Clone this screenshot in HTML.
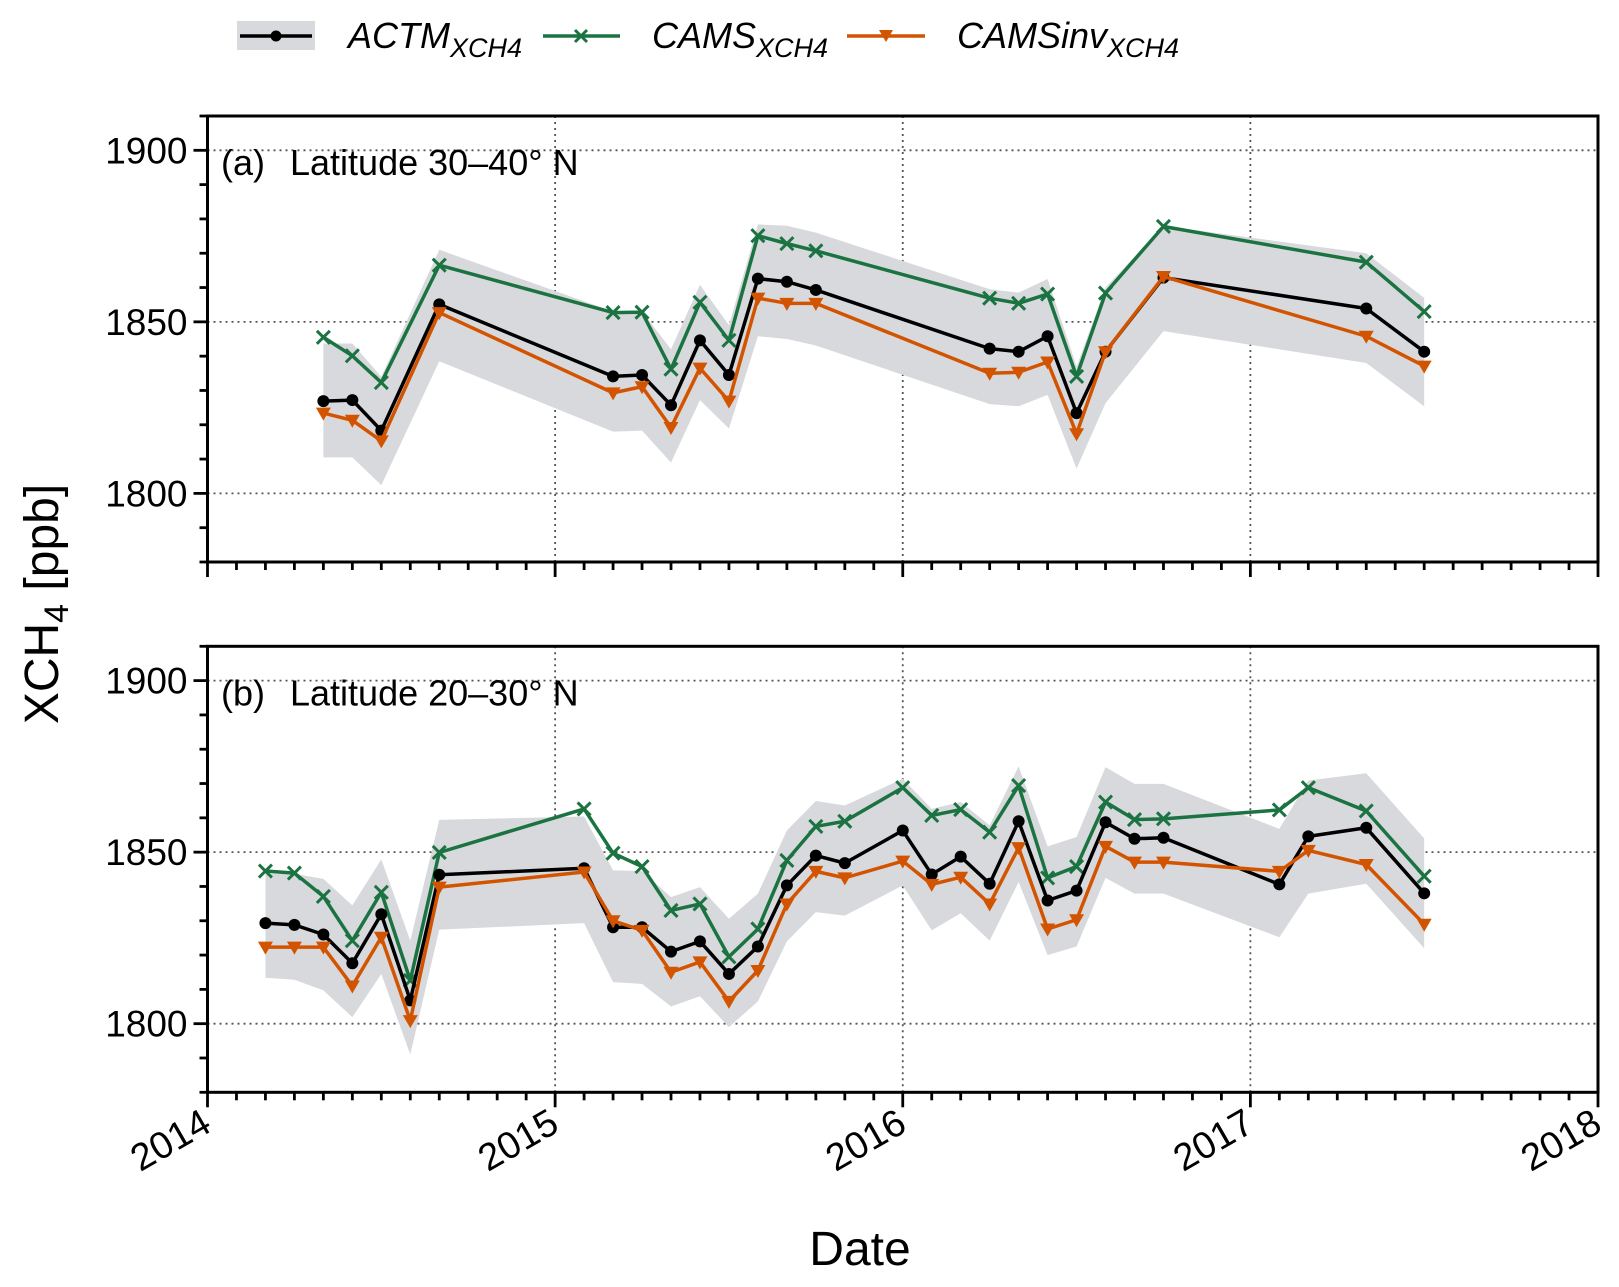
<!DOCTYPE html>
<html><head><meta charset="utf-8">
<style>
html,body{margin:0;padding:0;background:#fff;}
svg{display:block;font-family:"Liberation Sans",Arial,sans-serif;}
</style></head>
<body>
<svg id="chart" width="1619" height="1287" viewBox="0 0 1619 1287" xmlns="http://www.w3.org/2000/svg">
  <g id="legend">
    <g>
      <rect x="237" y="21" width="78" height="29" fill="#d8d9dc"/>
      <line x1="240" y1="36" x2="312" y2="36" stroke="#000" stroke-width="3.5"/>
      <circle cx="276" cy="36" r="5.5" fill="#000"/>
      <text x="348" y="48" font-size="36" font-style="italic">ACTM<tspan font-size="27" dy="9">XCH4</tspan></text>
    </g>
    <g>
      <line x1="543" y1="36" x2="620" y2="36" stroke="#1b7342" stroke-width="3.5"/>
      <path d="M575,30 l12,12 M587,30 l-12,12" stroke="#1b7342" stroke-width="3"/>
      <text x="652" y="48" font-size="36" font-style="italic">CAMS<tspan font-size="27" dy="9">XCH4</tspan></text>
    </g>
    <g>
      <line x1="847" y1="36" x2="925" y2="36" stroke="#d35400" stroke-width="3.5"/>
      <path d="M879,30 l14,0 l-7,12 z" fill="#d35400"/>
      <text x="957" y="48" font-size="36" font-style="italic">CAMSinv<tspan font-size="27" dy="9">XCH4</tspan></text>
    </g>
  </g>
  <text transform="translate(58,604) rotate(-90)" text-anchor="middle" font-size="48">XCH<tspan font-size="34" dy="10">4</tspan><tspan dy="-10"> [ppb]</tspan></text>
  <text x="860" y="1265" text-anchor="middle" font-size="48">Date</text>
</svg>
<script>
// ---- data (months since Jan 2014) ----
const monthsA = [4,5,6,8,14,15,16,17,18,19,20,21,27,28,29,30,31,33,40,42];
const actmA = [1826.9,1827.2,1818.3,1855.1,1834.1,1834.5,1825.7,1844.6,1834.5,1862.6,1861.7,1859.3,1842.2,1841.3,1845.8,1823.4,1841.3,1862.9,1853.9,1841.3];
const camsA = [1845.5,1840.1,1832.3,1866.5,1852.7,1852.8,1836.2,1855.7,1844.6,1875.1,1872.8,1870.7,1856.9,1855.4,1858.1,1834.1,1858.4,1877.8,1867.4,1853];
const invA = [1823.4,1821.3,1815.3,1852.7,1829.3,1831.1,1819.2,1836.5,1826.9,1856.9,1855.4,1855.4,1835,1835.3,1838.3,1817.4,1841.3,1863.2,1845.8,1837.1];
const lowA = [1810.5,1810.5,1802.4,1838.5,1818,1818.3,1809,1827.2,1818.9,1845.8,1845,1843.1,1826,1825.4,1828.7,1807.2,1826.3,1847.3,1838,1825.4];
const upA = [1843.7,1843.7,1834,1871,1853,1853,1842,1860.8,1849,1878.4,1878,1876,1859.5,1858.5,1862.5,1837,1860,1878,1870,1857];

const monthsB = [2,3,4,5,6,7,8,13,14,15,16,17,18,19,20,21,22,24,25,26,27,28,29,30,31,32,33,37,38,40,42];
const actmB = [1829.3,1828.8,1826,1817.6,1831.9,1806.8,1843.4,1845.3,1828.1,1828.1,1821,1824,1814.5,1822.5,1840.3,1849,1846.8,1856.3,1843.5,1848.7,1840.8,1859,1835.9,1838.8,1858.7,1853.9,1854.2,1840.6,1854.6,1857.1,1838];
const camsB = [1844.5,1843.9,1837.1,1824.2,1838.3,1812.6,1849.9,1862.6,1849.7,1845.8,1833,1834.9,1819.5,1827.6,1847.6,1857.5,1859,1868.8,1860.7,1862.4,1855.8,1869.4,1842.5,1845.8,1864.6,1859.5,1859.7,1862.3,1868.8,1862,1843];
const invB = [1822.3,1822.3,1822.3,1811,1825.2,1800.9,1839.8,1844.2,1830,1827.2,1815,1818,1806.5,1815.5,1834.9,1844.4,1842.5,1847.4,1840.6,1842.7,1834.9,1851.3,1827.6,1830.3,1851.7,1847.1,1847.1,1844.4,1850.5,1846.4,1829];
const lowB = [1813.4,1812.8,1809.7,1801.9,1814.5,1791,1827.4,1829.3,1812.1,1811.6,1805,1808,1799,1806.5,1824,1832.5,1831.5,1840.3,1827.2,1832.2,1824.2,1841.3,1820,1822.5,1842.5,1837.9,1837.9,1825.2,1837.9,1840.8,1822];
const upB = [1843.7,1843.7,1842.2,1834.5,1847.9,1824.2,1859.4,1860.4,1844.7,1844.5,1836.9,1839.8,1830.6,1837.9,1856.3,1864.9,1863.6,1871.4,1862.6,1864.6,1857.8,1875,1851.7,1854.4,1874.8,1869.9,1869.9,1856.8,1870.9,1873,1854];

const yTicks = [1800,1850,1900];
const yMinor = [1780,1790,1800,1810,1820,1830,1840,1850,1860,1870,1880,1890,1900,1910];
const xYears = ["2014","2015","2016","2017","2018"];
const panelTags = ["(a)","(b)"];
const panelLabels = ["Latitude 30\u201340\u00b0 N","Latitude 20\u201330\u00b0 N"];

// ---- layout ----
const NS = "http://www.w3.org/2000/svg";
const svg = document.getElementById('chart');
const X0 = 207.5, X1 = 1598, YMIN = 1780, YMAX = 1910;
const panels = [{top:116, bottom:562}, {top:646.3, bottom:1092.3}];
const GREEN = "#1b7342", ORANGE = "#d35400";
function xs(m){ return X0 + m*(X1-X0)/48; }
function mk(tag, attrs, parent){
  const e = document.createElementNS(NS, tag);
  for (const k in attrs) e.setAttribute(k, attrs[k]);
  (parent||svg).appendChild(e);
  return e;
}

function drawPanel(p, idx, months, actm, cams, inv, low, up){
  const ys = v => p.bottom - (v-YMIN)*(p.bottom-p.top)/(YMAX-YMIN);
  const g = mk('g', {});
  
  
  yTicks.forEach(v=>{
    const l = mk('line',{x1:X0,x2:X1,y1:ys(v),y2:ys(v),stroke:'#555','stroke-width':1.8,'stroke-dasharray':'2,4'},g);
    
    
  });
  xYears.forEach((y,i)=>{
    if(i===0||i===4) return;
    const l = mk('line',{x1:xs(i*12),x2:xs(i*12),y1:p.top,y2:p.bottom,stroke:'#555','stroke-width':1.8,'stroke-dasharray':'2,4'},g);
    
    
  });
  let d = months.map((m,i)=>(i?'L':'M')+xs(m)+','+ys(up[i])).join(' ');
  for(let i=months.length-1;i>=0;i--) d += ' L'+xs(months[i])+','+ys(low[i]);
  const band = mk('path',{d:d+' Z',fill:'#d8d9dc'},g);
  
  
  const series = [[cams,GREEN,'cams'],[actm,'#000','actm'],[inv,ORANGE,'camsinv']];
  series.forEach(([vals,col,name])=>{
    const pl = mk('polyline',{points:months.map((m,i)=>xs(m)+','+ys(vals[i])).join(' '),fill:'none',stroke:col,'stroke-width':3.5,'stroke-linejoin':'round'},g);
    
    
    months.forEach((m,i)=>{
      const cx = xs(m), cy = ys(vals[i]);
      let e;
      if(name==='actm') e = mk('circle',{cx:cx,cy:cy,r:6,fill:'#000'},g);
      else if(name==='cams') e = mk('path',{d:`M${cx-6.5},${cy-6.5} L${cx+6.5},${cy+6.5} M${cx+6.5},${cy-6.5} L${cx-6.5},${cy+6.5}`,stroke:GREEN,'stroke-width':3},g);
      else e = mk('path',{d:`M${cx-7.5},${cy-5.5} L${cx+7.5},${cy-5.5} L${cx},${cy+7.5} Z`,fill:ORANGE},g);
      
      
    });
  });
  const fr = mk('rect',{x:X0,y:p.top,width:X1-X0,height:p.bottom-p.top,fill:'none',stroke:'#000','stroke-width':3},g);
  
  
  yMinor.forEach(v=>{
    const major = yTicks.indexOf(v)>=0;
    mk('line',{x1:X0-(major?14:8),x2:X0,y1:ys(v),y2:ys(v),stroke:'#000','stroke-width':2.8},g);
    if(major){
      const t = mk('text',{x:X0-20,y:ys(v)+13,'text-anchor':'end','font-size':37},g);
      t.textContent = v;
      
      
    }
  });
  for(let m=0;m<=48;m++){
    const major = m%12===0;
    mk('line',{x1:xs(m),x2:xs(m),y1:p.bottom,y2:p.bottom+(major?15:8),stroke:'#000','stroke-width':2.8},g);
  }
  const tg = mk('text',{x:221,y:p.top+59,'font-size':36},g);
  tg.textContent = panelTags[idx];
  
  
  const pt = mk('text',{x:290,y:p.top+59,'font-size':36},g);
  pt.textContent = panelLabels[idx];
  
  
}
drawPanel(panels[0],0,monthsA,actmA,camsA,invA,lowA,upA);
drawPanel(panels[1],1,monthsB,actmB,camsB,invB,lowB,upB);
xYears.forEach((y,i)=>{
  const t = mk('text',{'text-anchor':'end','font-size':38,transform:`translate(${xs(i*12)+6},${1130}) rotate(-30)`});
  t.textContent = y;
  
  
});
</script>
</body></html>
